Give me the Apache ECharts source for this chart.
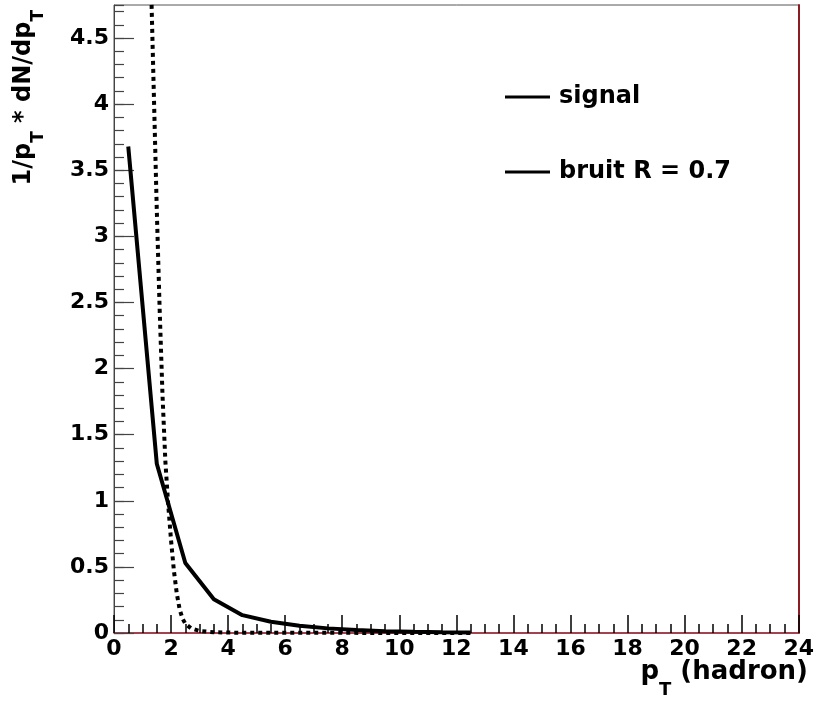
<!DOCTYPE html>
<html>
<head>
<meta charset="utf-8">
<script src="https://cdn.jsdelivr.net/npm/echarts@6/dist/echarts.min.js"></script>
<style>
  html, body { margin: 0; padding: 0; background: #fff; }
  #chart { width: 817px; height: 702px; }
</style>
</head>
<body>
<div id="chart"></div>
<script>
// signal: bin centres and values
const signalX = [0.5, 1.5, 2.5, 3.5, 4.5, 5.5, 6.5, 7.5, 8.5, 9.5, 10.5, 11.5, 12.5]
const signalY = [3.68, 1.28, 0.53, 0.255, 0.135, 0.085, 0.055, 0.035, 0.022, 0.014, 0.009, 0.006, 0.004]

// bruit R = 0.7 (dotted)
const bruitX = [1.2, 1.3, 1.4, 1.5, 1.6, 1.7, 1.8, 1.9, 2.0, 2.1, 2.2, 2.3, 2.4, 2.5, 2.7, 3.0, 3.5, 4, 5, 6, 8, 10, 12.5]
const bruitY = [5.9, 4.9, 4.05, 3.2, 2.45, 1.8, 1.3, 0.97, 0.7, 0.47, 0.3, 0.18, 0.11, 0.07, 0.035, 0.015, 0.006, 0.003, 0.002, 0.0015, 0.001, 0.0008, 0.0005]

const seriesNames = ['signal', 'bruit R = 0.7']
const xTicks = [0, 24, 2]     // min, max, step
const yTicks = [0, 4.75, 0.5] // min, max, step

const FONT = 'DejaVu Sans'
const pairs = (xs, ys) => xs.map((x, i) => [x, ys[i]])

const chart = echarts.init(document.getElementById('chart'))

const labelStyle = {
  color: '#000',
  fontFamily: FONT,
  fontWeight: 'bold',
  fontSize: 22
}

// rich styles for titles with subscript T
function titleRich(size, subSize, drop) {
  return {
    m: { fontFamily: FONT, fontWeight: 'bold', fontSize: size, lineHeight: size, verticalAlign: 'top', fill: '#000' },
    s: { fontFamily: FONT, fontWeight: 'bold', fontSize: subSize, lineHeight: size / 2 + drop + subSize / 2, verticalAlign: 'bottom', fill: '#000' }
  }
}

chart.setOption({
  animation: false,
  grid: {
    left: 114,
    right: 16,
    top: 5,
    bottom: 69,
    show: true,
    borderColor: '#555',
    borderWidth: 1
  },
  legend: {
    orient: 'vertical',
    left: 505,
    top: 84,
    padding: 0,
    icon: 'rect',
    itemWidth: 45,
    itemHeight: 3,
    itemGap: 49,
    textStyle: {
      color: '#000',
      fontFamily: FONT,
      fontWeight: 'bold',
      fontSize: 24,
      lineHeight: 26,
      padding: [0, 0, 0, 4]
    },
    data: seriesNames
  },
  xAxis: [{
    type: 'value',
    position: 'bottom',
    min: xTicks[0],
    max: xTicks[1],
    interval: xTicks[2],
    axisLine: { lineStyle: { color: '#a32232', width: 1.5 } },
    axisTick: { inside: true, length: 18, lineStyle: { color: '#000', width: 1.5 } },
    minorTick: { show: true, splitNumber: 4, length: 9, lineStyle: { color: '#000', width: 1.5 } },
    splitLine: { show: false },
    axisLabel: Object.assign({ margin: 5 }, labelStyle)
  }],
  yAxis: [{
    type: 'value',
    position: 'left',
    min: yTicks[0],
    max: yTicks[1],
    interval: yTicks[2],
    axisLine: { lineStyle: { color: '#444', width: 1 } },
    axisTick: { inside: true, length: 20, lineStyle: { color: '#444', width: 1.2 } },
    splitLine: { show: false },
    axisLabel: Object.assign({ margin: 5, showMaxLabel: false }, labelStyle)
  }, {
    // minor ticks every 0.1
    type: 'value',
    position: 'left',
    min: yTicks[0],
    max: yTicks[1],
    interval: 0.1,
    axisLine: { show: false },
    axisTick: { inside: true, length: 10, lineStyle: { color: '#444', width: 1.2 } },
    splitLine: { show: false },
    axisLabel: { show: false }
  }, {
    // right frame
    type: 'value',
    position: 'right',
    min: yTicks[0],
    max: yTicks[1],
    axisLine: { show: true, lineStyle: { color: '#8c1c24', width: 2 } },
    axisTick: { show: false },
    splitLine: { show: false },
    axisLabel: { show: false }
  }],
  graphic: [{
    type: 'text',
    x: 12,
    y: 10,
    rotation: Math.PI / 2,
    style: {
      text: '{m|1/p}{s|T}{m| * dN/dp}{s|T}',
      textAlign: 'right',
      textVerticalAlign: 'top',
      rich: titleRich(24, 17, 15)
    }
  }, {
    type: 'text',
    right: 9,
    top: 659,
    style: {
      text: '{m|p}{s|T}{m| (hadron)}',
      rich: titleRich(26, 18, 18)
    }
  }],
  series: [{
    name: seriesNames[0],
    type: 'line',
    xAxisIndex: 0,
    yAxisIndex: 0,
    symbol: 'none',
    color: '#000',
    lineStyle: { color: '#000', width: 4, type: 'solid' },
    data: pairs(signalX, signalY)
  }, {
    name: seriesNames[1],
    type: 'line',
    xAxisIndex: 0,
    yAxisIndex: 0,
    symbol: 'none',
    color: '#000',
    lineStyle: { color: '#000', width: 4, type: [4, 4] },
    data: pairs(bruitX, bruitY)
  }]
})
</script>
</body>
</html>
